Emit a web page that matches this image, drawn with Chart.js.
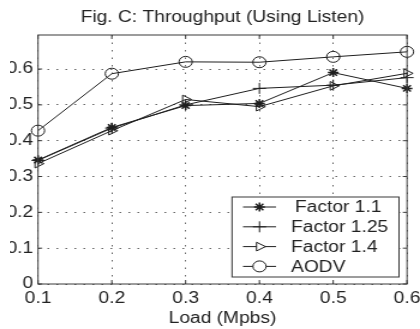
<!DOCTYPE html>
<html>
<head>
<meta charset="utf-8">
<script src="https://cdn.jsdelivr.net/npm/chart.js@4/dist/chart.umd.min.js"></script>
<style>
  html, body { margin: 0; padding: 0; background: #fff; }
  #clip { position: absolute; left: 10px; top: 0; width: 410px; height: 329px; overflow: hidden; }
  #wrap { position: absolute; left: -10px; top: 0; width: 350px; height: 329px; transform: scaleX(1.2); transform-origin: 0 0; }
  #c { display: block; }
</style>
</head>
<body>
<div id="clip"><div id="wrap"><canvas id="c" width="350" height="329"></canvas></div></div>
<script>
// ---- data ----
const titleText = 'Fig. C: Throughput (Using Listen)';
const xTitle = 'Load (Mpbs)';
const loads = [0.1, 0.2, 0.3, 0.4, 0.5, 0.6];
const factor11 = [0.346, 0.437, 0.498, 0.504, 0.590, 0.546];
const factor125 = [0.345, 0.435, 0.500, 0.546, 0.555, 0.576];
const factor14 = [0.336, 0.428, 0.515, 0.495, 0.553, 0.588];
const aodv = [0.428, 0.587, 0.620, 0.619, 0.634, 0.648];
const seriesNames = ['Factor 1.1', 'Factor 1.25', 'Factor 1.4', 'AODV'];
const yMin = 0, yMax = 0.695, yStep = 0.1;
const xMin = 0.1, xMax = 0.6, xStep = 0.1;

// ---- layout (internal canvas is 350 wide, stretched to 420) ----
const SX = 350 / 420;
const FONT = 'Liberation Sans, Arial, sans-serif';
const INK = '#1e1e1e';

function pts(vals) { return loads.map((x, i) => ({ x: x, y: vals[i] })); }
function ds(label, vals, style, radius, rotation, bw) {
  return {
    label, data: pts(vals), borderColor: INK, borderWidth: 1,
    backgroundColor: 'rgba(0,0,0,0)', pointStyle: style, pointRadius: radius,
    pointRotation: rotation, pointBorderWidth: bw, pointBorderColor: INK,
    pointBackgroundColor: 'rgba(0,0,0,0)', tension: 0, clip: false, showLine: true
  };
}

const framePlugin = {
  id: 'frame',
  afterDatasetsDraw(chart) {
    const { ctx, chartArea: a, scales } = chart;
    ctx.save();
    ctx.strokeStyle = '#3a3a3a';
    ctx.lineWidth = 1;
    ctx.strokeRect(a.left, a.top, a.right - a.left, a.bottom - a.top);
    ctx.beginPath();
    scales.x.ticks.forEach(t => {
      const px = scales.x.getPixelForValue(t.value);
      ctx.moveTo(px, a.bottom); ctx.lineTo(px, a.bottom - 4);
      ctx.moveTo(px, a.top); ctx.lineTo(px, a.top + 4);
    });
    scales.y.ticks.forEach(t => {
      const py = scales.y.getPixelForValue(t.value);
      ctx.moveTo(a.left, py); ctx.lineTo(a.left + 3.5, py);
      ctx.moveTo(a.right, py); ctx.lineTo(a.right - 3.5, py);
    });
    ctx.stroke();
    // title
    ctx.fillStyle = '#222';
    ctx.font = '16px ' + FONT;
    ctx.textAlign = 'center';
    ctx.textBaseline = 'alphabetic';
    ctx.fillText(titleText, (a.left + a.right) / 2, 22);
    // legend
    const bx = 232 * SX, by = 197, bw = (399 - 232) * SX, bh = 80;
    ctx.fillStyle = '#fff';
    ctx.fillRect(bx, by, bw, bh);
    ctx.strokeStyle = '#3a3a3a';
    ctx.strokeRect(bx, by, bw, bh);
    chart.data.datasets.forEach((d, i) => {
      const y = 207 + i * 19.8;
      const x0 = 243 * SX, x1 = 276 * SX, xm = 259.5 * SX;
      ctx.strokeStyle = INK; ctx.lineWidth = 1;
      ctx.beginPath(); ctx.moveTo(x0, y); ctx.lineTo(x1, y); ctx.stroke();
      ctx.lineWidth = d.pointBorderWidth;
      ctx.fillStyle = '#fff';
      Chart.helpers.drawPoint(ctx, { pointStyle: d.pointStyle, radius: d.pointRadius, rotation: d.pointRotation, borderWidth: d.pointBorderWidth }, xm, y);
      ctx.fillStyle = '#222';
      ctx.font = '16px ' + FONT;
      ctx.textAlign = 'left';
      ctx.textBaseline = 'middle';
      ctx.fillText(seriesNames[i], (i === 0 ? 295 : 291) * SX, y + 1);
    });
    ctx.restore();
  }
};

new Chart(document.getElementById('c'), {
  type: 'scatter',
  data: {
    datasets: [
      ds(seriesNames[0], factor11, 'star', 4.5, 0, 1.5),
      ds(seriesNames[1], factor125, 'cross', 5.5, 0, 1),
      ds(seriesNames[2], factor14, 'triangle', 5, 90, 1),
      ds(seriesNames[3], aodv, 'circle', 5.5, 0, 1)
    ]
  },
  options: {
    responsive: false,
    devicePixelRatio: 1,
    animation: false,
    layout: { padding: { top: 35, right: 350 - 407 * SX, left: 0, bottom: 0 } },
    plugins: { legend: { display: false }, tooltip: { enabled: false }, title: { display: false } },
    scales: {
      x: {
        type: 'linear', min: xMin, max: xMax,
        ticks: { stepSize: xStep, autoSkip: false, maxRotation: 0, font: { family: FONT, size: 16 }, color: '#222', padding: 5,
                 callback: v => v.toFixed(1) },
        grid: { color: '#666', lineWidth: 1, drawTicks: false },
        border: { display: false, dash: [1.5, 6] },
        title: { display: true, text: xTitle, font: { family: FONT, size: 16 }, color: '#222', padding: { top: 0, bottom: 1 } },
        afterFit(s) { s.height = 329 - 284; s.paddingLeft = 0; s.paddingRight = 0; }
      },
      y: {
        type: 'linear', min: yMin, max: yMax,
        ticks: { stepSize: yStep, includeBounds: false, autoSkip: false, font: { family: FONT, size: 16 }, color: '#222', padding: 4,
                 callback: v => (Math.abs(v) < 1e-9 ? '0' : v.toFixed(1)) },
        grid: { color: '#666', lineWidth: 1, drawTicks: false },
        border: { display: false, dash: [1.5, 6] },
        afterFit(s) { s.width = 38 * SX; s.paddingTop = 0; s.paddingBottom = 0; }
      }
    }
  },
  plugins: [framePlugin]
});
</script>
</body>
</html>
